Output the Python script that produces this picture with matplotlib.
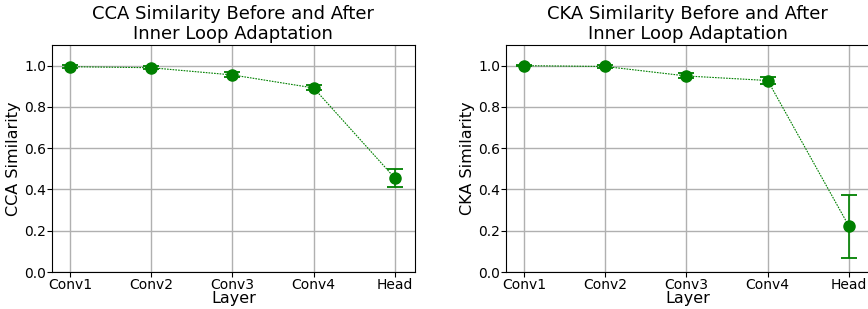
import matplotlib.pyplot as plt
import numpy as np

layers = ["Conv1", "Conv2", "Conv3", "Conv4", "Head"]
cca_mean = [0.995, 0.990, 0.955, 0.892, 0.455]
cca_err = [0.006, 0.008, 0.012, 0.012, 0.045]
cka_mean = [1.000, 0.996, 0.950, 0.928, 0.222]
cka_err = [0.004, 0.006, 0.012, 0.016, 0.153]

fig = plt.figure(figsize=(8.68, 3.09), dpi=100)
ax1 = fig.add_axes([0.0599, 0.1197, 0.418, 0.7346])
ax2 = fig.add_axes([0.583, 0.1197, 0.418, 0.7346])

x = np.arange(len(layers))
for ax, mean, err, name in [(ax1, cca_mean, cca_err, "CCA"), (ax2, cka_mean, cka_err, "CKA")]:
    ax.errorbar(x, mean, yerr=err, color="green", marker="o", markersize=8,
                linestyle=(0, (1.5, 1)), linewidth=0.8, capsize=5.5, elinewidth=1.2, capthick=1.3)
    ax.set_xticks(x)
    ax.set_xticklabels(layers)
    ax.set_xlim(-0.22, 4.245)
    ax.set_ylim(0, 1.1)
    ax.set_yticks([0.0, 0.2, 0.4, 0.6, 0.8, 1.0])
    ax.tick_params(labelsize=10, length=3.5, pad=0.8)
    ax.grid(True, color="#b0b0b0", linewidth=1)
    ax.set_axisbelow(True)
    ax.set_xlabel("Layer", fontsize=11.5, labelpad=-1)
    ax.set_ylabel(name + " Similarity", fontsize=11.5, labelpad=2)
    ax.set_title(name + " Similarity Before and After\nInner Loop Adaptation", fontsize=13,
                 linespacing=1.15, pad=4)

fig.savefig("out.png", dpi=100)
